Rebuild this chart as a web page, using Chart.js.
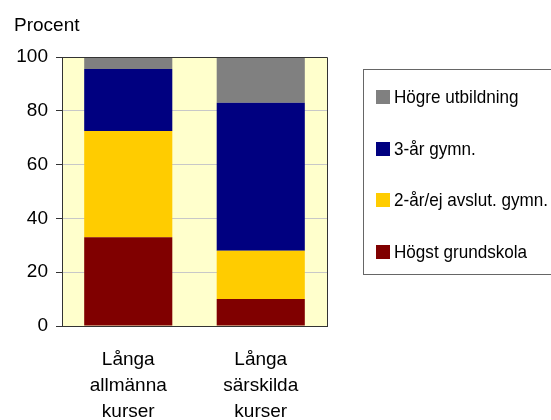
<!DOCTYPE html>
<html>
<head>
<meta charset="utf-8">
<script src="https://cdn.jsdelivr.net/npm/chart.js@4"></script>
<style>
    body { margin: 0; background: #fff; font-family: "Liberation Sans", Arial, sans-serif; }
    #wrap { position: relative; width: 551px; height: 420px; overflow: hidden; }
    #ytitle { position: absolute; left: 14px; top: 14px; font-size: 19px; color: #000; }
    #legend { position: absolute; left: 363px; top: 69px; width: 200px; height: 206px; border: 1px solid #666; box-sizing: border-box; }
    .item { position: absolute; left: 12px; height: 20px; display: flex; align-items: center; white-space: nowrap; }
    .sw { width: 14px; height: 14px; margin-right: 4px; }
    .lbl { font-size: 19px; transform: scaleX(0.9); transform-origin: left center; }
</style>
</head>
<body>
<div id="wrap">
    <canvas id="chart" width="551" height="420"></canvas>
    <div id="ytitle">Procent</div>
    <div id="legend"></div>
</div>
<script>
// Kategorier
const categories = [['Långa', 'allmänna', 'kurser'], ['Långa', 'särskilda', 'kurser']];
const yTicks = [0, 20, 40, 60, 80, 100];

// Serier (nedifrån och upp)
const seriesNames = ['Högst grundskola', '2-år/ej avslut. gymn.', '3-år gymn.', 'Högre utbildning'];
const hogstGrundskola = [33, 10];
const tvaArGymn = [39.5, 18];
const treArGymn = [23, 55];
const hogreUtbildning = [4.5, 17];
const seriesColors = ['#800000', '#FFCC00', '#000080', '#808080'];

const seriesValues = [hogstGrundskola, tvaArGymn, treArGymn, hogreUtbildning];

// Bakgrund och ram runt diagramytan
const plotFrame = {
    id: 'plotFrame',
    beforeDraw(chart) {
        const { ctx, chartArea: a } = chart;
        ctx.save();
        ctx.fillStyle = '#FFFFCC';
        ctx.fillRect(a.left, a.top, a.right - a.left, a.bottom - a.top);
        ctx.restore();
    },
    afterDraw(chart) {
        const { ctx, chartArea: a } = chart;
        ctx.save();
        ctx.strokeStyle = '#333';
        ctx.lineWidth = 1;
        ctx.beginPath();
        ctx.moveTo(a.left, a.top + 0.5);
        ctx.lineTo(a.right + 0.5, a.top + 0.5);
        ctx.lineTo(a.right + 0.5, a.bottom);
        ctx.stroke();
        ctx.restore();
    }
};

new Chart(document.getElementById('chart'), {
    type: 'bar',
    data: {
        labels: categories,
        datasets: seriesNames.map((name, i) => ({
            label: name,
            data: seriesValues[i],
            backgroundColor: seriesColors[i],
            borderWidth: 0,
            categoryPercentage: 1,
            barPercentage: 0.665
        }))
    },
    options: {
        responsive: false,
        animation: false,
        layout: { padding: { left: 0, top: 57, right: 224, bottom: 0 } },
        plugins: { legend: { display: false }, tooltip: { enabled: false } },
        scales: {
            x: {
                stacked: true,
                grid: { display: false },
                border: { color: '#333', width: 1 },
                ticks: {
                    color: '#000',
                    padding: 13,
                    font: { family: 'Liberation Sans', size: 19, lineHeight: 1.37 }
                },
                afterFit(scale) { scale.height = 94; }
            },
            y: {
                stacked: true,
                min: 0,
                max: 100,
                afterBuildTicks(scale) { scale.ticks = yTicks.map(v => ({ value: v })); },
                grid: { color: '#c8c8c8', tickColor: '#333', tickLength: 6 },
                border: { color: '#333', width: 1 },
                ticks: {
                    color: '#000',
                    padding: 8,
                    font: { family: 'Liberation Sans', size: 19 }
                },
                afterFit(scale) { scale.width = 62; }
            }
        }
    },
    plugins: [plotFrame]
});

// Förklaring (omvänd ordning, högre utbildning överst)
const legend = document.getElementById('legend');
seriesNames.slice().reverse().forEach((name, i) => {
    const color = seriesColors[seriesNames.length - 1 - i];
    const item = document.createElement('div');
    item.className = 'item';
    item.style.top = (17 + i * 51.5) + 'px';
    item.innerHTML = `<div class="sw" style="background:${color}"></div><span class="lbl">${name}</span>`;
    legend.appendChild(item);
});
</script>
</body>
</html>
